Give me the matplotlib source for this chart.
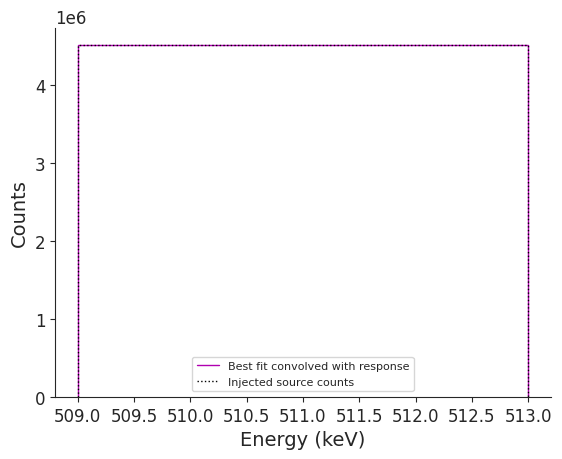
import matplotlib
matplotlib.use("Agg")
import matplotlib.pyplot as plt
import seaborn as sns
import numpy as np

sns.set_style("ticks")
plt.rcParams['font.family'] = ['DejaVu Sans']

bin_edges = [509.0, 513.0]
best_fit = [4.514e6]
injected = [4.514e6]

fig, ax = plt.subplots(figsize=(5.62, 4.6), dpi=100)
ax.stairs(best_fit, bin_edges, color='#b000b0', linewidth=1.0, label='Best fit convolved with response')
ax.stairs(injected, bin_edges, color='black', linestyle=':', linewidth=1.0, label='Injected source counts')
ax.set_xlabel('Energy (keV)', fontsize=14)
ax.set_ylabel('Counts', fontsize=14)
ax.tick_params(labelsize=12)
ax.yaxis.get_offset_text().set_fontsize(12)
ax.set_xticks(np.arange(509.0, 513.01, 0.5))
ax.legend(loc='lower center', fontsize=8)
sns.despine()
fig.subplots_adjust(left=0.098, right=0.98, top=0.938, bottom=0.135)
fig.savefig('out.png')
